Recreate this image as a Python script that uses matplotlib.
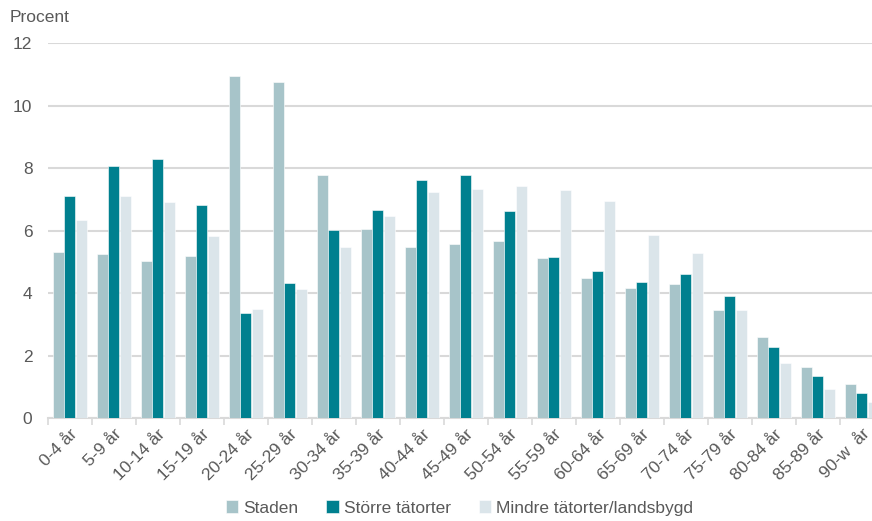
import numpy as np
import matplotlib
matplotlib.use('Agg')
import matplotlib.pyplot as plt

plt.rcParams['font.family'] = ['Liberation Sans', 'DejaVu Sans']

# åldersgrupper
kategorier = ['0-4 år', '5-9 år', '10-14 år', '15-19 år', '20-24 år', '25-29 år',
              '30-34 år', '35-39 år', '40-44 år', '45-49 år', '50-54 år', '55-59 år',
              '60-64 år', '65-69 år', '70-74 år', '75-79 år', '80-84 år', '85-89 år',
              '90-w  år']
staden = [5.30, 5.24, 5.02, 5.18, 10.94, 10.75, 7.78, 6.05, 5.46, 5.57,
          5.67, 5.12, 4.47, 4.16, 4.29, 3.47, 2.58, 1.63, 1.10]
storre = [7.11, 8.07, 8.29, 6.83, 3.36, 4.32, 6.01, 6.65, 7.62, 7.77,
          6.61, 5.16, 4.69, 4.35, 4.60, 3.91, 2.28, 1.34, 0.79]
mindre = [6.34, 7.09, 6.91, 5.82, 3.49, 4.13, 5.47, 6.46, 7.24, 7.33,
          7.42, 7.31, 6.94, 5.86, 5.29, 3.46, 1.75, 0.92, 0.52]
serier = ['Staden', 'Större tätorter', 'Mindre tätorter/landsbygd']
farger = ['#a7c4c9', '#00808f', '#dbe5ea']
textfarg = '#595959'
gridfarg = '#d9d9d9'

fig = plt.figure(figsize=(8.72, 5.21), dpi=100)
ax = fig.add_axes([47.7/872, 103/521, (872-47.7)/872, 375/521])

x = np.arange(len(kategorier))
w = 0.25
for i, (vals, namn, c) in enumerate(zip([staden, storre, mindre], serier, farger)):
    ax.bar(x + (i-1)*0.265, vals, width=w, color=c, edgecolor='white',
           linewidth=0.4, label=namn, zorder=3)

ax.set_yticks(range(0, 13, 2))
ax.yaxis.grid(True, color=gridfarg, linewidth=1.5, zorder=0)
for s in ['top', 'right', 'left']:
    ax.spines[s].set_visible(False)
ax.spines['bottom'].set_color(gridfarg)
ax.spines['bottom'].set_linewidth(1.5)

ax.set_xticks(x)
ax.set_xticklabels(kategorier, rotation=45, ha='right', rotation_mode='anchor')
ax.set_xticks(np.arange(-0.5, len(kategorier), 1), minor=True)
ax.tick_params(axis='x', which='major', length=0, pad=6, labelsize=12.5, labelcolor=textfarg)
ax.tick_params(axis='x', which='minor', length=5, width=1.2, color=gridfarg)
ax.tick_params(axis='y', length=0, pad=11, labelsize=12.5, labelcolor=textfarg)
# gränser sist, annars utvidgar set_xticks dem
ax.set_ylim(0, 12)
ax.set_xlim(-0.5, 18.23)

fig.text(10/872, 1-18/521, 'Procent', fontsize=12.5, color=textfarg, va='center')

leg = fig.legend(loc='center', bbox_to_anchor=(0.527, 0.025), ncol=3, frameon=False,
                 fontsize=12.5, handlelength=0.7, handleheight=0.7,
                 handletextpad=0.3, columnspacing=1.6)
for t in leg.get_texts():
    t.set_color(textfarg)

fig.savefig('out.png', dpi=100)
